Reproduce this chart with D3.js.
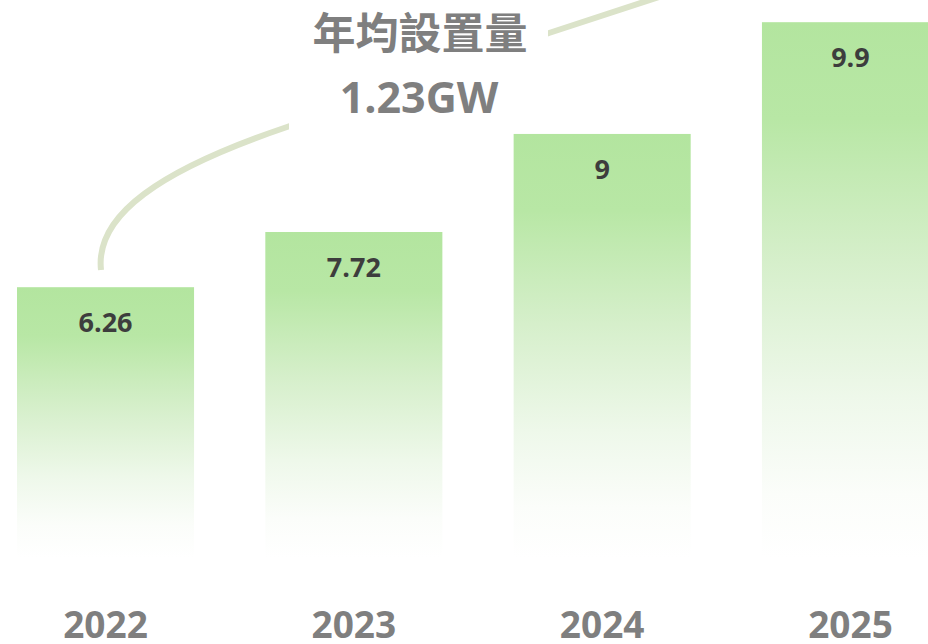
<!DOCTYPE html>
<html>
<head>
<meta charset="utf-8">
<script src="https://cdn.jsdelivr.net/npm/d3@7"></script>
<style>
  html, body { margin: 0; padding: 0; background: #ffffff; overflow: hidden; }
  svg { display: block; }
</style>
</head>
<body>
<svg id="chart" width="928" height="644"></svg>
<script>
// ---- data ----
const years = ["2022", "2023", "2024", "2025"];
const values = [6.26, 7.72, 9, 9.9];
const valueLabels = ["6.26", "7.72", "9", "9.9"];
const titleLines = ["年均設置量", "1.23GW"];

// ---- layout ----
const W = 928, H = 644;
const svg = d3.select("#chart");
const baseline = 558;

const x = d3.scaleBand()
  .domain(years)
  .range([17, 939])
  .paddingInner(0.287)
  .paddingOuter(0);

// emphasised growth scale (picture exaggerates later years)
const y = d3.scalePow()
  .exponent(5)
  .domain([0, 10])
  .range([317, 7]);

// gradient
const defs = svg.append("defs");
const grad = defs.append("linearGradient")
  .attr("id", "barGrad")
  .attr("x1", 0).attr("y1", 0).attr("x2", 0).attr("y2", 1);
[
  [0, "#b3e59f"],
  [0.18, "#b8e7a5"],
  [0.45, "#d6efcb"],
  [0.7, "#eef8ea"],
  [0.88, "#fbfdfa"],
  [1, "#ffffff"]
].forEach(([o, c]) => grad.append("stop").attr("offset", o).attr("stop-color", c));

// decorative arc annotation
const arc = d3.path();
arc.moveTo(101, 270);
arc.bezierCurveTo(95, 215, 160, 170, 287, 127);
arc.lineTo(549, 33);
arc.lineTo(662, -4);
svg.append("path")
  .attr("d", arc.toString())
  .attr("fill", "none")
  .attr("stroke", "#dbe3c9")
  .attr("stroke-width", 6)
  .attr("stroke-linejoin", "round");

// white box behind the title
svg.append("rect")
  .attr("x", 289).attr("y", 0)
  .attr("width", 259).attr("height", 140)
  .attr("fill", "#ffffff");

// bars
const data = years.map((yr, i) => ({ year: yr, value: values[i], label: valueLabels[i] }));

svg.append("g").selectAll("rect")
  .data(data)
  .join("rect")
  .attr("x", d => x(d.year))
  .attr("y", d => y(d.value))
  .attr("width", x.bandwidth())
  .attr("height", d => baseline - y(d.value))
  .attr("fill", "url(#barGrad)");

// value labels
svg.append("g").selectAll("text")
  .data(data)
  .join("text")
  .attr("x", d => x(d.year) + x.bandwidth() / 2)
  .attr("y", d => y(d.value) + 45)
  .attr("text-anchor", "middle")
  .attr("font-family", "'Open Sans', 'Noto Sans', sans-serif")
  .attr("font-weight", 700)
  .attr("font-size", 27)
  .attr("fill", "#3d3d3d")
  .text(d => d.label);

// year labels (category axis)
const xAxis = svg.append("g")
  .attr("transform", `translate(0, ${638})`)
  .call(d3.axisBottom(x).tickSize(0).tickPadding(0));
xAxis.select(".domain").remove();
xAxis.selectAll("text")
  .attr("dy", 0)
  .attr("y", 0)
  .attr("font-family", "'Open Sans', 'Noto Sans', sans-serif")
  .attr("font-weight", 700)
  .attr("font-size", 37)
  .attr("fill", "#7f7f7f");

// title
svg.append("text")
  .attr("x", 420).attr("y", 49)
  .attr("text-anchor", "middle")
  .attr("font-family", "'Noto Sans CJK TC', 'Noto Sans CJK SC', sans-serif")
  .attr("font-weight", 700)
  .attr("font-size", 43)
  .attr("fill", "#7f7f7f")
  .text(titleLines[0]);
svg.append("text")
  .attr("x", 419).attr("y", 113)
  .attr("text-anchor", "middle")
  .attr("font-family", "'Open Sans', 'Noto Sans', sans-serif")
  .attr("font-weight", 700)
  .attr("font-size", 43)
  .attr("fill", "#7f7f7f")
  .text(titleLines[1]);
</script>
</body>
</html>
